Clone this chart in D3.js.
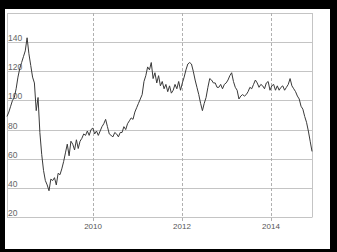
<!DOCTYPE html>
<html>
<head>
<meta charset="utf-8">
<script src="https://cdn.jsdelivr.net/npm/d3@7"></script>
<style>
  html, body { margin: 0; padding: 0; background: #000; }
  svg { display: block; }
  text { font-family: "Liberation Sans", Arial, sans-serif; }
</style>
</head>
<body>
<div id="chart"></div>
<script>
const width = 337;
const height = 252;

// one value every 15 days, starting 2008-01-25
const startDate = "2008-01-25";
const stepDays = 15;
const price2008 = [89, 92, 96, 100, 102, 108, 116, 122, 126, 130, 134, 143, 132, 124, 116, 112, 93, 102, 78, 63, 52, 45, 42, 38];
const price2009 = [46, 45, 47, 42, 50, 49, 53, 58, 64, 70, 62, 72, 70, 66, 73, 67, 72, 74, 77, 76, 79, 76, 80, 81];
const price2010 = [77, 79, 76, 79, 82, 84, 87, 82, 77, 76, 75, 78, 77, 75, 78, 78, 82, 80, 84, 86, 88, 87, 92, 95];
const price2011 = [98, 101, 104, 113, 117, 123, 121, 126, 115, 119, 112, 117, 110, 113, 108, 111, 106, 110, 105, 107, 111, 108, 113, 107];
const price2012 = [112, 116, 121, 125, 126, 125, 120, 114, 109, 104, 98, 93, 98, 102, 109, 115, 114, 112, 112, 109, 109, 111, 108, 111];
const price2013 = [112, 114, 117, 119, 113, 109, 107, 101, 103, 104, 103, 104, 106, 109, 108, 111, 114, 112, 109, 111, 110, 108, 112, 113];
const price2014 = [107, 110, 111, 107, 110, 107, 109, 110, 107, 109, 111, 115, 110, 108, 106, 103, 101, 96, 94, 89, 85, 79, 72, 65];

const yTicks = [20, 40, 60, 80, 100, 120, 140];
const xTickYears = [2010, 2012, 2014];

const values = [].concat(price2008, price2009, price2010, price2011, price2012, price2013, price2014);
const t0 = d3.timeParse("%Y-%m-%d")(startDate);
const data = values.map((v, i) => ({ date: d3.timeDay.offset(t0, i * stepDays), value: v }));

const svg = d3.select("#chart").append("svg")
    .attr("width", width)
    .attr("height", height);

// frame
svg.append("rect").attr("width", width).attr("height", height).attr("fill", "#000");
svg.append("rect").attr("x", 5).attr("y", 9).attr("width", 325).attr("height", 240).attr("fill", "#fff");

const plot = { left: 7, right: 312, top: 13, bottom: 217 };

const x = d3.scaleTime()
    .domain(d3.extent(data, d => d.date))
    .range([plot.left, plot.right]);

const y = d3.scaleLinear()
    .domain([20, 160])
    .range([plot.bottom, plot.top]);

// horizontal grid
svg.append("g")
    .selectAll("line")
    .data(yTicks.concat([160]))
    .join("line")
    .attr("x1", plot.left).attr("x2", plot.right)
    .attr("y1", d => Math.round(y(d)) + 0.5).attr("y2", d => Math.round(y(d)) + 0.5)
    .attr("stroke", "#c4c4c4")
    .attr("stroke-width", 1);

// plot borders left / right
[plot.left, plot.right].forEach(px => {
    svg.append("line")
        .attr("x1", px + 0.5).attr("x2", px + 0.5)
        .attr("y1", plot.top).attr("y2", plot.bottom + 0.5)
        .attr("stroke", "#c4c4c4");
});

// vertical dashed grid at years
const yearDates = xTickYears.map(yr => new Date(yr, 0, 1));
svg.append("g")
    .selectAll("line")
    .data(yearDates)
    .join("line")
    .attr("x1", d => Math.round(x(d)) + 0.5).attr("x2", d => Math.round(x(d)) + 0.5)
    .attr("y1", plot.top).attr("y2", plot.bottom + 4)
    .attr("stroke", "#b0b0b0")
    .attr("stroke-dasharray", "3,2");

// y labels inside the plot
svg.append("g")
    .selectAll("text")
    .data(yTicks)
    .join("text")
    .attr("x", plot.left + 1)
    .attr("y", d => y(d) - 1)
    .attr("font-size", 8.5)
    .attr("fill", "#666")
    .text(d => d);

// x labels
svg.append("g")
    .selectAll("text")
    .data(yearDates)
    .join("text")
    .attr("x", d => x(d))
    .attr("y", 229)
    .attr("text-anchor", "middle")
    .attr("font-size", 8)
    .attr("fill", "#555")
    .text(d => d.getFullYear());

// price line
const line = d3.line()
    .x(d => x(d.date))
    .y(d => y(d.value));

svg.append("path")
    .datum(data)
    .attr("d", line)
    .attr("fill", "none")
    .attr("stroke", "#3a3a3a")
    .attr("stroke-width", 1)
    .attr("stroke-linejoin", "round");
</script>
</body>
</html>
